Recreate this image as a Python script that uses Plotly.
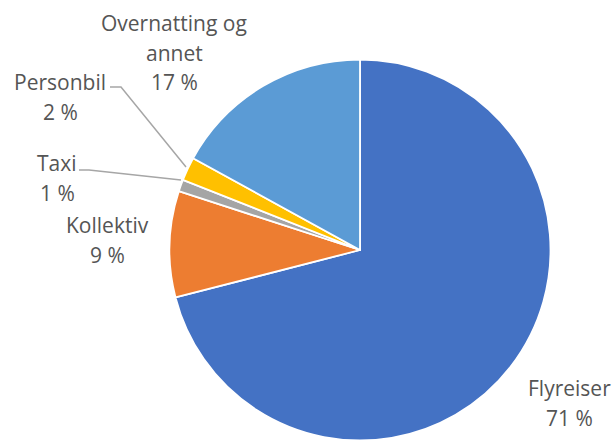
import plotly.graph_objects as go

# Travel emissions by category (share of total, %)
categories = ["Flyreiser", "Kollektiv", "Taxi", "Personbil", "Overnatting og annet"]
shares = [71, 9, 1, 2, 17]
colors = ["#4472C4", "#ED7D31", "#A5A5A5", "#FFC000", "#5B9BD5"]
label_lines = [["Flyreiser"], ["Kollektiv"], ["Taxi"], ["Personbil"], ["Overnatting og", "annet"]]

W, H = 614, 441
CX, CY, R = 360, 250, 190.5


def px(x):
    return x / W


def py(y):
    return (H - y) / H


fig = go.Figure(
    go.Pie(
        labels=categories,
        values=shares,
        sort=False,
        direction="clockwise",
        rotation=0,
        marker=dict(colors=colors, line=dict(color="white", width=1.8)),
        textinfo="none",
        hoverinfo="label+percent",
        showlegend=False,
        domain=dict(x=[px(CX - R), px(CX + R)], y=[py(CY + R), py(CY - R)]),
    )
)

# top line centre of each label block, in pixel space
label_pos = {
    "Flyreiser": (569, 388),
    "Kollektiv": (107, 225),
    "Taxi": (57, 163),
    "Personbil": (60, 82),
    "Overnatting og annet": (174, 23),
}
LINE_GAP = 29.5

for cat, lines, val in zip(categories, label_lines, shares):
    x, y0 = label_pos[cat]
    for i, txt in enumerate(lines + [f"{val} %"]):
        fig.add_annotation(
            x=px(x), y=py(y0 + i * LINE_GAP), xref="paper", yref="paper",
            text=txt, showarrow=False,
            font=dict(family="Open Sans", size=21, color="#555555"),
            xanchor="center", yanchor="middle",
        )

# leader lines for the two thin slices
leaders = [
    [(110, 87), (121, 87), (186, 167)],
    [(79, 170), (89, 170), (181, 180)],
]
for pts in leaders:
    path = "M " + " L ".join(f"{px(x)},{py(y)}" for x, y in pts)
    fig.add_shape(type="path", path=path, xref="paper", yref="paper",
                  line=dict(color="#A6A6A6", width=1.5))

fig.update_layout(
    width=W, height=H,
    margin=dict(l=0, r=0, t=0, b=0),
    paper_bgcolor="white",
    plot_bgcolor="white",
)

fig.write_html("out.html")
